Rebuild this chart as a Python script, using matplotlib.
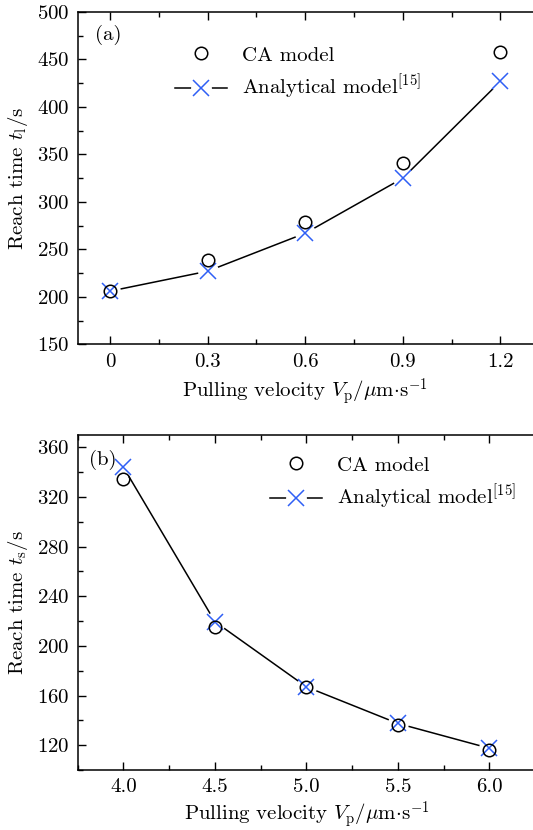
import matplotlib
matplotlib.use("Agg")
import matplotlib.pyplot as plt
from matplotlib.legend_handler import HandlerTuple
from matplotlib.ticker import MultipleLocator

plt.rcParams['font.family'] = ['cmr10', 'DejaVu Serif']
plt.rcParams['mathtext.fontset'] = 'cm'
plt.rcParams['axes.formatter.use_mathtext'] = True
plt.rcParams['axes.unicode_minus'] = False

# ---- data ----
vp_a = [0.0, 0.3, 0.6, 0.9, 1.2]
ca_a = [206, 239, 279, 341, 458]
an_a = [206, 227, 267, 325, 427]
xticks_a = [0.0, 0.3, 0.6, 0.9, 1.2]
xticklabels_a = ['0', '0.3', '0.6', '0.9', '1.2']
yticks_a = [150, 200, 250, 300, 350, 400, 450, 500]

vp_b = [4.0, 4.5, 5.0, 5.5, 6.0]
ca_b = [334.5, 215.5, 166.5, 136.5, 116]
an_b = [344, 219.5, 167, 137.5, 117.5]
xticks_b = [4.0, 4.5, 5.0, 5.5, 6.0]
xticklabels_b = ['4.0', '4.5', '5.0', '5.5', '6.0']
yticks_b = [120, 160, 200, 240, 280, 320, 360]

label_ca = 'CA model'
label_an = r'Analytical model$^{[15]}$'
xlabel = r'Pulling velocity $V_\mathrm{p}/\mu\mathrm{m}{\cdot}\mathrm{s}^{-1}$'
ylabel_a = r'Reach time $t_\mathrm{l}$/s'
ylabel_b = r'Reach time $t_\mathrm{s}$/s'

BLUE = '#2f5ff5'
FS = 15

W, H = 533, 830
fig = plt.figure(figsize=(W / 100, H / 100), dpi=100)
axa = fig.add_axes([77.5 / W, 1 - 344.3 / H, 455.5 / W, 332.3 / H])
axb = fig.add_axes([77.7 / W, 1 - 770 / H, 457.5 / W, 335 / H])


def draw(ax, x, ca, an, xlim, ylim, xticks, xtl, yticks, yminor, xminor, ylabel, panel, ppos, legpos, xlpad):
    line, = ax.plot(x, an, color='black', lw=1.1, zorder=2)
    mask, = ax.plot(x, an, ls='none', marker='o', ms=15, mfc='white', mec='none', zorder=3)
    cross, = ax.plot(x, an, ls='none', marker='x', ms=11, mew=1.1, color=BLUE, zorder=4)
    circ, = ax.plot(x, ca, ls='none', marker='o', ms=9, mfc='none', mec='black', mew=1.1, zorder=5)
    ax.set_xlim(*xlim)
    ax.set_ylim(*ylim)
    ax.set_xticks(xticks)
    ax.set_xticklabels(xtl)
    ax.set_yticks(yticks)
    ax.xaxis.set_minor_locator(MultipleLocator(xminor))
    ax.yaxis.set_minor_locator(MultipleLocator(yminor))
    ax.tick_params(which='both', direction='in', top=True, right=False, labelsize=FS, width=1)
    ax.tick_params(which='major', length=6, pad=6)
    ax.tick_params(which='minor', length=3.5)
    ax.spines['right'].set_visible(False)
    for s in ['left', 'top', 'bottom']:
        ax.spines[s].set_linewidth(1.1)
    ax.set_xlabel(xlabel, fontsize=FS, labelpad=xlpad)
    ax.set_ylabel(ylabel, fontsize=FS, labelpad=5)
    ax.text(ppos[0], ppos[1], panel, transform=ax.transAxes, fontsize=FS, va='center', ha='left')
    leg = ax.legend([circ, (line, mask, cross)], [label_ca, label_an],
                    handler_map={tuple: HandlerTuple(ndivide=1, pad=0)},
                    loc='upper left', bbox_to_anchor=legpos, frameon=False, fontsize=FS,
                    handlelength=2.5, handletextpad=0.7, labelspacing=0.42, borderpad=0, borderaxespad=0)
    return leg


draw(axa, vp_a, ca_a, an_a, (-0.1, 1.3), (150, 500), xticks_a, xticklabels_a, yticks_a, 25, 0.15,
     ylabel_a, '(a)', (0.038, 0.93), ((175 - 77.5) / 455.5, 1 - (46 - 12) / 332.3), 4)
draw(axb, vp_b, ca_b, an_b, (3.75, 6.25), (100, 370), xticks_b, xticklabels_b, yticks_b, 20, 0.25,
     ylabel_b, '(b)', (0.025, 0.927), ((270 - 77.7) / 457.5, 1 - (456 - 435) / 335), 2)

fig.savefig('out.png', dpi=100)
